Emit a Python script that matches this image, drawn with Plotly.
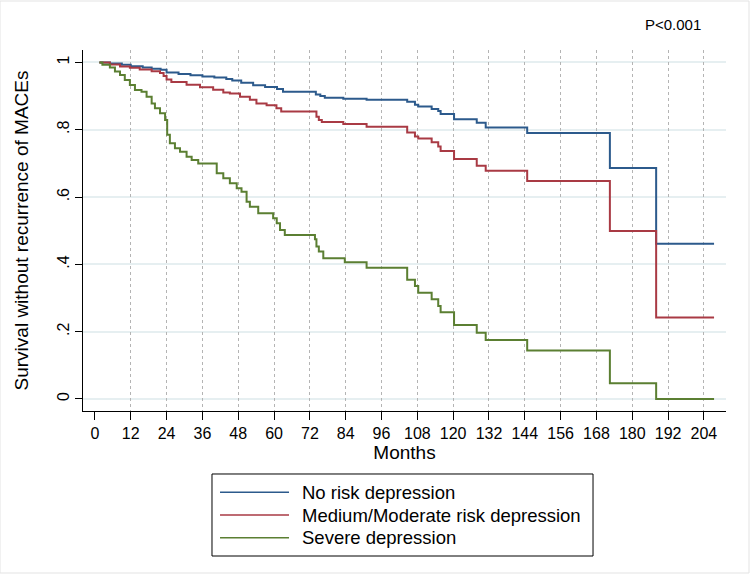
import plotly.graph_objects as go

# ---------------- data ----------------
months_ticks = [0, 12, 24, 36, 48, 60, 72, 84, 96, 108, 120, 132, 144, 156, 168, 180, 192, 204]
y_ticks = [0, 0.2, 0.4, 0.6, 0.8, 1.0]
y_tick_labels = ["0", ".2", ".4", ".6", ".8", "1"]

series_names = ["No risk depression", "Medium/Moderate risk depression", "Severe depression"]

no_risk_t = [1.5, 5, 9, 12, 16, 19, 22, 24, 28, 32, 36, 40, 44, 46, 49, 53, 57, 61, 63,
             74, 75.5, 77, 83.2, 91, 104.6, 107.2, 108.3, 112.8, 115, 115.8, 120.3,
             127.9, 130.9, 144.8, 172.5, 188, 207.4]
no_risk_s = [1.0, 0.997, 0.993, 0.989, 0.985, 0.981, 0.978, 0.970, 0.966, 0.962, 0.958,
             0.955, 0.951, 0.946, 0.940, 0.932, 0.927, 0.921, 0.913,
             0.905, 0.900, 0.895, 0.892, 0.889, 0.883, 0.874, 0.869, 0.862, 0.856, 0.847,
             0.831, 0.821, 0.807, 0.790, 0.686, 0.461, 0.461]

moderate_t = [1.5, 5, 8.4, 11.7, 15, 19, 21.8, 23, 24, 25.6, 30.7, 35.2, 39.6, 43, 45.2,
              48.6, 51.9, 54.1, 57.5, 60.8, 62.4, 74.2, 75, 76, 83.2, 91, 104.6, 107.2,
              108.3, 112.8, 115, 115.8, 120.3, 127.9, 130.9, 144.8, 172.5, 188, 207.4]
moderate_s = [1.0, 0.994, 0.988, 0.984, 0.979, 0.974, 0.969, 0.960, 0.949, 0.942, 0.934,
              0.926, 0.919, 0.911, 0.908, 0.898, 0.889, 0.878, 0.873, 0.864, 0.854,
              0.839, 0.829, 0.823, 0.817, 0.809, 0.792, 0.780, 0.774, 0.763, 0.750,
              0.737, 0.713, 0.693, 0.678, 0.648, 0.499, 0.242, 0.242]

severe_t = [1.5, 2.5, 5, 6.7, 8.4, 10, 11.7, 13.4, 15.6, 17.3, 19, 20.1, 21.8, 23.5, 24.2,
            25.1, 26.8, 28.5, 30.7, 32.4, 34.6, 40.8, 43, 45.2, 47.5, 49.1, 50.8, 51.9,
            54.7, 59.7, 60.9, 62, 63.6, 73.7, 74.2, 75, 76.5, 83.7, 91, 104.6, 107.2,
            108.3, 112.8, 115, 115.8, 120.3, 127.9, 130.9, 144.8, 172.5, 188, 207.4]
severe_s = [1.0, 0.993, 0.985, 0.973, 0.963, 0.948, 0.933, 0.918, 0.913, 0.898, 0.878,
            0.864, 0.849, 0.829, 0.785, 0.760, 0.745, 0.735, 0.720, 0.710, 0.700, 0.671,
            0.656, 0.641, 0.626, 0.616, 0.586, 0.571, 0.552, 0.537, 0.522, 0.502, 0.487,
            0.475, 0.453, 0.438, 0.418, 0.406, 0.390, 0.354, 0.336, 0.316, 0.296, 0.276,
            0.258, 0.220, 0.197, 0.175, 0.144, 0.047, 0.0, 0.0]

colors = ["#2c5a8c", "#a93a44", "#5b7f32"]
FONT = "Arial, Liberation Sans, sans-serif"

fig = go.Figure()
for name, t, s, c in zip(series_names,
                         [no_risk_t, moderate_t, severe_t],
                         [no_risk_s, moderate_s, severe_s], colors):
    fig.add_trace(go.Scatter(x=t, y=s, mode="lines", name=name,
                             line=dict(color=c, width=2, shape="hv"),
                             showlegend=False))

# invisible trace on second x-axis to carry dotted verticals at 12..204
fig.add_trace(go.Scatter(x=[months_ticks[1]], y=[0], xaxis="x2", mode="markers",
                         marker=dict(opacity=0), showlegend=False, hoverinfo="skip"))

xr = [-4, 211.4]
yr = [-0.0357, 1.037]

fig.update_layout(
    width=750, height=574,
    margin=dict(l=83, r=24, t=50, b=163),
    paper_bgcolor="white", plot_bgcolor="white",
    font=dict(family=FONT, color="black"),
    xaxis=dict(range=xr, tickvals=months_ticks, ticktext=[str(m) for m in months_ticks],
               ticks="outside", ticklen=8, tickcolor="black", tickwidth=1,
               showline=True, linecolor="black", linewidth=1, showgrid=False,
               zeroline=False, tickfont=dict(size=16),
               title=dict(text="Months", font=dict(size=19), standoff=0)),
    xaxis2=dict(range=xr, overlaying="x", tickvals=months_ticks[1:], showticklabels=False,
                showgrid=True, gridcolor="#b4b4b4", griddash="dot", gridwidth=1,
                zeroline=False, showline=False, ticks=""),
    yaxis=dict(range=yr, tickvals=y_ticks, ticktext=y_tick_labels, tickangle=-90,
               ticks="outside", ticklen=7, tickcolor="black", tickwidth=1,
               showline=True, linecolor="black", linewidth=1,
               showgrid=True, gridcolor="#e6eff1", gridwidth=1.5, zeroline=False,
               tickfont=dict(size=16),
               title=dict(text="Survival without recurrence of MACEs", font=dict(size=19),
                          standoff=20)),
)

# P-value annotation
fig.add_annotation(text="P<0.001", xref="paper", yref="paper", x=0.964, y=1.07,
                   xanchor="right", yanchor="middle", showarrow=False,
                   font=dict(size=15, family=FONT))

# manual legend box (Stata-style)
fig.add_shape(type="rect", xref="paper", yref="paper", x0=0.2006, x1=0.7932,
              y0=-0.4017, y1=-0.1745, line=dict(color="black", width=1),
              fillcolor="white")
row_y = [-0.2252, -0.2881, -0.351]
for name, c, ry in zip(series_names, colors, row_y):
    fig.add_shape(type="line", xref="paper", yref="paper", x0=0.2131, x1=0.3204,
                  y0=ry, y1=ry, line=dict(color=c, width=1.5))
    fig.add_annotation(text=name, xref="paper", yref="paper", x=0.3375, y=ry,
                       xanchor="left", yanchor="middle", showarrow=False,
                       font=dict(size=18.5, family=FONT))

# faint image border
fig.add_shape(type="rect", xref="paper", yref="paper",
              x0=-83/643, x1=(750-83-1)/643, y0=-(163-1)/361, y1=(361+50-1)/361,
              line=dict(color="#e3e3e3", width=1), layer="below")

fig.write_html("out.html")
